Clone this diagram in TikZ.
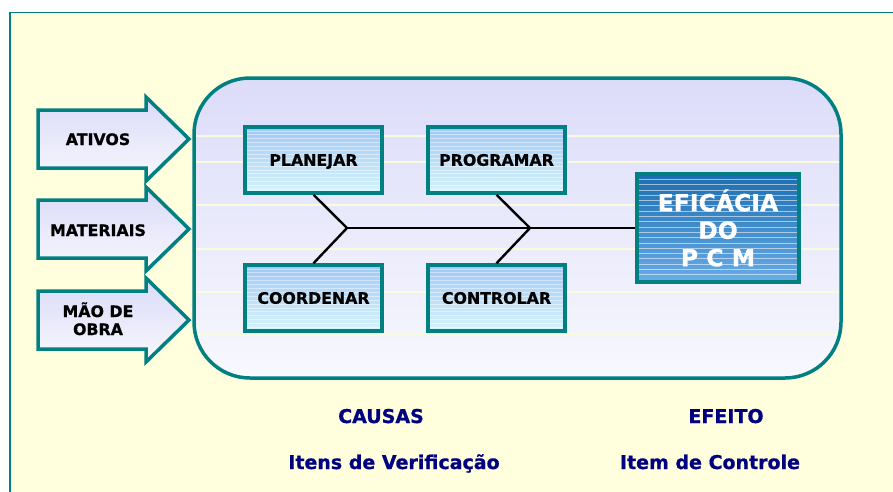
\documentclass[tikz,border=0pt]{standalone}
\usepackage{fontspec}
\setmainfont{DejaVu Sans}[BoldFeatures={FakeBold=0.8}]
\definecolor{tealb}{RGB}{0,128,128}
\definecolor{bgy}{RGB}{255,255,221}
\definecolor{rbtop}{RGB}{220,220,250}
\definecolor{rbbot}{RGB}{248,248,254}
\definecolor{bxtop}{RGB}{160,200,245}
\definecolor{bxbot}{RGB}{215,245,252}
\definecolor{eftop}{RGB}{28,110,176}
\definecolor{efbot}{RGB}{105,172,232}
\definecolor{navyt}{RGB}{0,0,128}
\definecolor{pline}{RGB}{250,250,222}
\definecolor{artop}{RGB}{218,218,248}
\definecolor{arbot}{RGB}{248,248,254}
\tikzset{
  cbox/.style={draw=tealb, line width=3.5pt, top color=bxtop, bottom color=bxbot,
    minimum width=137pt, minimum height=66pt, inner sep=0pt,
    font=\bfseries\fontsize{15.8}{18}\selectfont, text height=11.5pt, text depth=0pt,
    path picture={\foreach \k in {1,...,17}{\draw[white,opacity=.45,line width=.8pt]
      ([yshift=-\k*3.9pt]path picture bounding box.north west) --
      ([yshift=-\k*3.9pt]path picture bounding box.north east);}}},
  effbox/.style={draw=tealb, line width=3.5pt, top color=eftop, bottom color=efbot,
    minimum width=162pt, minimum height=108pt, inner sep=0pt, align=center,
    text=white, font=\bfseries\fontsize{23.5}{27.5}\selectfont,
    path picture={\foreach \k in {1,...,20}{\draw[white,opacity=.55,line width=.8pt]
      ([yshift=-\k*5.3pt]path picture bounding box.north west) --
      ([yshift=-\k*5.3pt]path picture bounding box.north east);}}},
  arrowsty/.style={draw=tealb, line width=3.5pt, top color=artop, bottom color=arbot, line join=miter},
  arrtext/.style={font=\bfseries\fontsize{15.8}{18}\selectfont, anchor=base, align=center, inner sep=0pt},
  bottext/.style={font=\bfseries\fontsize{19}{22}\selectfont, text=navyt, anchor=base, inner sep=0pt},
  bone/.style={draw=black, line width=2.4pt}
}
\newcommand{\drawfatarrow}[1]{%
  \draw[arrowsty] (38,#1-29) -- (146,#1-29) -- (146,#1-42) -- (189,#1) --
    (146,#1+42) -- (146,#1+29) -- (38,#1+29) -- cycle;}
\begin{document}
\begin{tikzpicture}[x=1pt,y=-1pt]
\useasboundingbox (0,0) rectangle (893,491);
\fill[white] (0,0) rectangle (893,491);
\draw[tealb, line width=1.5pt, fill=bgy] (10,12.5) rectangle (910,510);
% main rounded container
\fill[top color=rbtop, bottom color=rbbot, rounded corners=56pt] (194,78) rectangle (841,378);
\begin{scope}
  \clip[rounded corners=56pt] (194,78) rectangle (841,378);
  \foreach \yy in {136,162,205,249,292,335}{
    \draw[pline, line width=1.2pt] (194,\yy) -- (841,\yy);}
\end{scope}
\draw[tealb, line width=3.5pt, rounded corners=56pt] (194,78) rectangle (841,378);
% input arrows
\drawfatarrow{139}
\drawfatarrow{229}
\drawfatarrow{320}
\node[arrtext] (ativos) at (98,145) {ATIVOS};
\node[arrtext] (materiais) at (98,236) {MATERIAIS};
\node[arrtext] (mao1) at (98,317) {MÃO DE};
\node[arrtext] (mao2) at (98,335) {OBRA};
% cause boxes
\node[cbox] (planejar) at (313.5,160) {PLANEJAR};
\node[cbox] (programar) at (496.5,160) {PROGRAMAR};
\node[cbox] (coordenar) at (313.5,298) {COORDENAR};
\node[cbox] (controlar) at (496.5,298) {CONTROLAR};
% effect box
\node[effbox] (eff) at (718,228) {EFICÁCIA\\DO\\P C M};
% fishbone
\coordinate (j1) at (347,228);
\coordinate (j2) at (530,228);
\draw[bone] (j1) -- (eff.west);
\draw[bone] (planejar.south) -- (j1);
\draw[bone] (coordenar.north) -- (j1);
\draw[bone] (programar.south) -- (j2);
\draw[bone] (controlar.north) -- (j2);
% bottom labels
\node[bottext] (causas) at (381,423) {CAUSAS};
\node[bottext] (efeito) at (726,423) {EFEITO};
\node[bottext] (itens) at (394,469) {Itens de Verificação};
\node[bottext] (item) at (710,469) {Item de Controle};
\end{tikzpicture}
\end{document}
